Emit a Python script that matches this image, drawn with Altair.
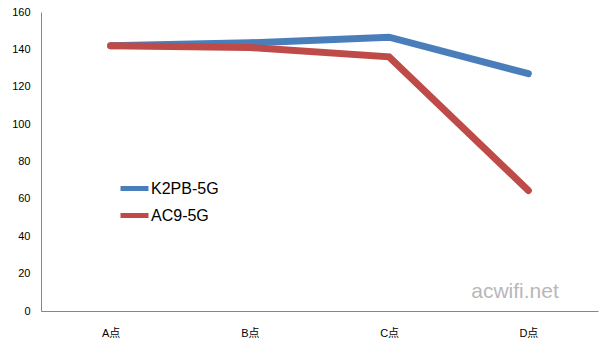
import altair as alt
import pandas as pd

categories = ["A点", "B点", "C点", "D点"]
series_names = ["K2PB-5G", "AC9-5G"]
k2pb_values = [142, 143.5, 146.5, 127]
ac9_values = [142, 141, 136, 64.5]
y_ticks = [0, 20, 40, 60, 80, 100, 120, 140, 160]
watermark = ["acwifi.net"]
colors = ["#4A7EBB", "#BE4B48"]

df_k = pd.DataFrame({"cat": categories, "val": k2pb_values, "series": series_names[0]})
df_a = pd.DataFrame({"cat": categories, "val": ac9_values, "series": series_names[1]})

FONT = "Liberation Sans, Noto Sans CJK SC, sans-serif"

x_enc = alt.X("cat:N", sort=categories,
              scale=alt.Scale(type="point", padding=0.5),
              axis=alt.Axis(title=None, labelAngle=0, ticks=False, grid=False,
                            domainColor="#868686", labelPadding=16,
                            labelFontSize=11, labelFont=FONT, labelColor="#000"))
y_enc = alt.Y("val:Q", scale=alt.Scale(domain=[0, 160], nice=False),
              axis=alt.Axis(title=None, values=y_ticks, ticks=False, grid=False,
                            domainColor="#868686", labelPadding=11,
                            labelFontSize=11, labelFont=FONT, labelColor="#000"))
color_enc = alt.Color("series:N",
                      scale=alt.Scale(domain=series_names, range=colors),
                      legend=alt.Legend(title=None, orient="none", legendX=77, legendY=160,
                                        symbolType="stroke", symbolSize=784,
                                        symbolStrokeWidth=5, labelFontSize=16,
                                        labelFont=FONT, labelColor="#000",
                                        labelOffset=0, rowPadding=0))

line_k = alt.Chart(df_k).mark_line(strokeWidth=7, strokeCap="round", strokeJoin="miter").encode(
    x=x_enc, y=y_enc, color=color_enc)
line_a = alt.Chart(df_a).mark_line(strokeWidth=7, strokeCap="round", strokeJoin="miter").encode(
    x=x_enc, y=y_enc, color=color_enc)

wm = alt.Chart(pd.DataFrame({"t": watermark})).mark_text(
    fontSize=21, font=FONT, color="#B8B8B8", align="center", baseline="middle"
).encode(text="t:N", x=alt.value(474), y=alt.value(280))

chart = alt.layer(line_k, line_a, wm).properties(
    width=557, height=299,
    autosize=alt.AutoSizeParams(type="none"),
    padding={"left": 41, "top": 12, "right": 1, "bottom": 43},
    background="white",
).configure_view(stroke=None)

chart.save("out.html", embed_options={"renderer": "svg", "actions": False})
